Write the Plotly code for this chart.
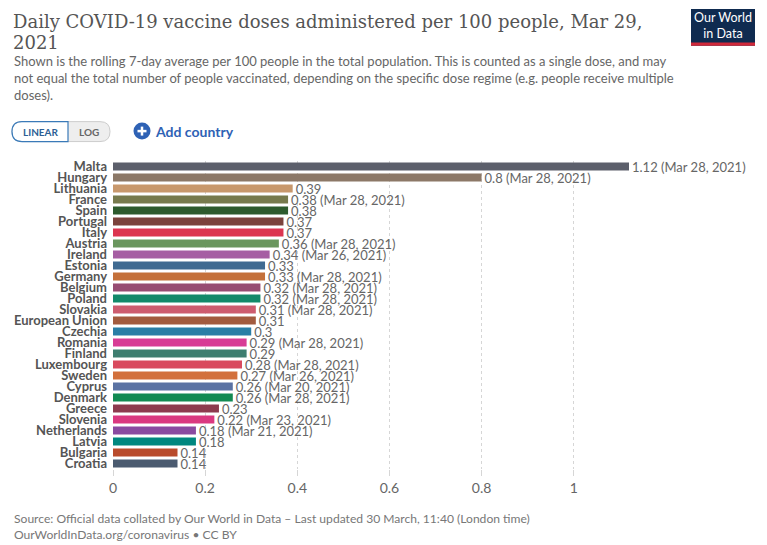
import plotly.graph_objects as go

countries = ["Malta", "Hungary", "Lithuania", "France", "Spain", "Portugal", "Italy",
             "Austria", "Ireland", "Estonia", "Germany", "Belgium", "Poland", "Slovakia",
             "European Union", "Czechia", "Romania", "Finland", "Luxembourg", "Sweden",
             "Cyprus", "Denmark", "Greece", "Slovenia", "Netherlands", "Latvia",
             "Bulgaria", "Croatia"]
values = [1.12, 0.8, 0.39, 0.38, 0.38, 0.37, 0.37, 0.36, 0.34, 0.33, 0.33, 0.32, 0.32,
          0.31, 0.31, 0.3, 0.29, 0.29, 0.28, 0.27, 0.26, 0.26, 0.23, 0.22, 0.18, 0.18,
          0.14, 0.14]
dates = ["Mar 28, 2021", "Mar 28, 2021", "", "Mar 28, 2021", "", "", "",
         "Mar 28, 2021", "Mar 26, 2021", "", "Mar 28, 2021", "Mar 28, 2021",
         "Mar 28, 2021", "Mar 28, 2021", "", "", "Mar 28, 2021", "", "Mar 28, 2021",
         "Mar 26, 2021", "Mar 20, 2021", "Mar 28, 2021", "", "Mar 23, 2021",
         "Mar 21, 2021", "", "", ""]
colors = ["#5c5f6b", "#8c7867", "#c8986c", "#777a4d", "#2d5a2d", "#7b423c", "#dc3550",
          "#6a965e", "#a65ea3", "#3f6a91", "#c4703a", "#974c72", "#13896a", "#cd5c6f",
          "#a25b3e", "#2a7ea6", "#d83c95", "#3e7e70", "#d94a5e", "#d2703c", "#5a72a3",
          "#128a52", "#8d3a4e", "#da3880", "#8a4aa0", "#00877f", "#b94b2c", "#4b5b70"]
xticks = [0, 0.2, 0.4, 0.6, 0.8, 1]

labels = [f"{v:g}" + (f" ({d})" if d else "") for v, d in zip(values, dates)]

W, H = 767, 545
L, R = 113, 629
T, B = 160.5, 469.5
PW = R - L
PH = B - T


def px(x):
    return (x - L) / PW


def py(y):
    return 1 - (y - T) / PH


fig = go.Figure(go.Bar(
    x=values, y=countries, orientation="h",
    marker=dict(color=colors, line=dict(width=0)),
    width=0.72,
    text=labels, textposition="outside", cliponaxis=False, constraintext="none",
    textfont=dict(family="Lato", size=13, color="#666666"),
    hoverinfo="skip",
))

fig.update_layout(
    width=W, height=H,
    margin=dict(l=L, r=W - R, t=T, b=H - B, pad=0, autoexpand=False),
    plot_bgcolor="white", paper_bgcolor="white",
    showlegend=False,
    xaxis=dict(range=[0, 1.12], tickvals=xticks, ticktext=[f"{t:g}" for t in xticks],
               showgrid=True, gridcolor="#d6d6d6", griddash="3px,3px", gridwidth=1,
               zeroline=False, showline=False, ticks="outside", ticklen=6,
               tickcolor="#d6d6d6", automargin=False,
               tickfont=dict(family="Lato", size=14, color="#666666")),
    yaxis=dict(categoryorder="array", categoryarray=countries, range=[27.5, -0.5],
               tickmode="array", tickvals=countries, ticktext=countries, automargin=False,
               showgrid=False, zeroline=False, showline=False, ticks="", ticklabelstandoff=5,
               tickfont=dict(family="Lato", size=13, color="#555555", weight="bold")),
)

ann = []
shapes = []
# Title (two lines)
ann.append(dict(x=px(11), y=py(21), xref="paper", yref="paper", xanchor="left", yanchor="middle",
                align="left", showarrow=False,
                text="Daily COVID-19 vaccine doses administered per 100 people, Mar 29,",
                font=dict(family="DejaVu Serif", size=18, color="#555555")))
ann.append(dict(x=px(11), y=py(42), xref="paper", yref="paper", xanchor="left", yanchor="middle",
                align="left", showarrow=False, text="2021",
                font=dict(family="DejaVu Serif", size=18, color="#555555")))
# Subtitle
ann.append(dict(x=px(12), y=py(50.5), xref="paper", yref="paper", xanchor="left", yanchor="top",
                align="left", showarrow=False,
                text=("Shown is the rolling 7-day average per 100 people in the total population. "
                      "This is counted as a single dose, and may<br>not equal the total number of "
                      "people vaccinated, depending on the specific dose regime (e.g. people "
                      "receive multiple<br>doses)."),
                font=dict(family="Lato", size=13, color="#666666")))
# Logo
shapes.append(dict(type="rect", xref="paper", yref="paper", x0=px(691), x1=px(755),
                   y0=py(45), y1=py(8), fillcolor="#0f2b50", line=dict(width=0)))
shapes.append(dict(type="rect", xref="paper", yref="paper", x0=px(691), x1=px(755),
                   y0=py(45), y1=py(41.5), fillcolor="#d0293a", line=dict(width=0)))
ann.append(dict(x=px(723), y=py(24.5), xref="paper", yref="paper", xanchor="center",
                yanchor="middle", showarrow=False, text="Our World<br>in Data",
                font=dict(family="Lato", size=12.5, color="white")))
# Linear / Log toggle
shapes.append(dict(type="path", xref="paper", yref="paper",
                   path=(f"M {px(22)},{py(121)} L {px(100)},{py(121)} "
                         f"Q {px(110)},{py(121)} {px(110)},{py(131)} "
                         f"Q {px(110)},{py(141)} {px(100)},{py(141)} "
                         f"L {px(22)},{py(141)} Q {px(12)},{py(141)} {px(12)},{py(131)} "
                         f"Q {px(12)},{py(121)} {px(22)},{py(121)} Z"),
                   fillcolor="#eeeeee", line=dict(color="#cccccc", width=1)))
shapes.append(dict(type="path", xref="paper", yref="paper",
                   path=(f"M {px(22)},{py(121)} L {px(68)},{py(121)} L {px(68)},{py(141)} "
                         f"L {px(22)},{py(141)} Q {px(12)},{py(141)} {px(12)},{py(131)} "
                         f"Q {px(12)},{py(121)} {px(22)},{py(121)} Z"),
                   fillcolor="white", line=dict(color="#3a7ab8", width=1.2)))
ann.append(dict(x=px(40.5), y=py(131.5), xref="paper", yref="paper", xanchor="center",
                yanchor="middle", showarrow=False, text="<b>LINEAR</b>",
                font=dict(family="Lato", size=10, color="#2d5f95")))
ann.append(dict(x=px(89), y=py(131.5), xref="paper", yref="paper", xanchor="center",
                yanchor="middle", showarrow=False, text="<b>LOG</b>",
                font=dict(family="Lato", size=10, color="#666666")))
# Add country
shapes.append(dict(type="circle", xref="paper", yref="paper", x0=px(133.5), x1=px(150.5),
                   y0=py(139), y1=py(122), fillcolor="#2e62b5", line=dict(width=0)))
shapes.append(dict(type="line", xref="paper", yref="paper", x0=px(137.5), x1=px(146.5),
                   y0=py(130.5), y1=py(130.5), line=dict(color="white", width=2.5)))
shapes.append(dict(type="line", xref="paper", yref="paper", x0=px(142), x1=px(142),
                   y0=py(126), y1=py(135), line=dict(color="white", width=2.5)))
ann.append(dict(x=px(153), y=py(130.5), xref="paper", yref="paper", xanchor="left",
                yanchor="middle", showarrow=False, text="<b>Add country</b>",
                font=dict(family="Lato", size=14, color="#2e62b5")))
# Footer
ann.append(dict(x=px(12), y=py(509.5), xref="paper", yref="paper", xanchor="left", yanchor="top",
                align="left", showarrow=False,
                text=("Source: Official data collated by Our World in Data \u2013 Last updated "
                      "30 March, 11:40 (London time)<br>OurWorldInData.org/coronavirus \u2022 CC BY"),
                font=dict(family="Lato", size=12.1, color="#777777")))

fig.update_layout(annotations=ann, shapes=shapes)
fig.write_html("out.html")
